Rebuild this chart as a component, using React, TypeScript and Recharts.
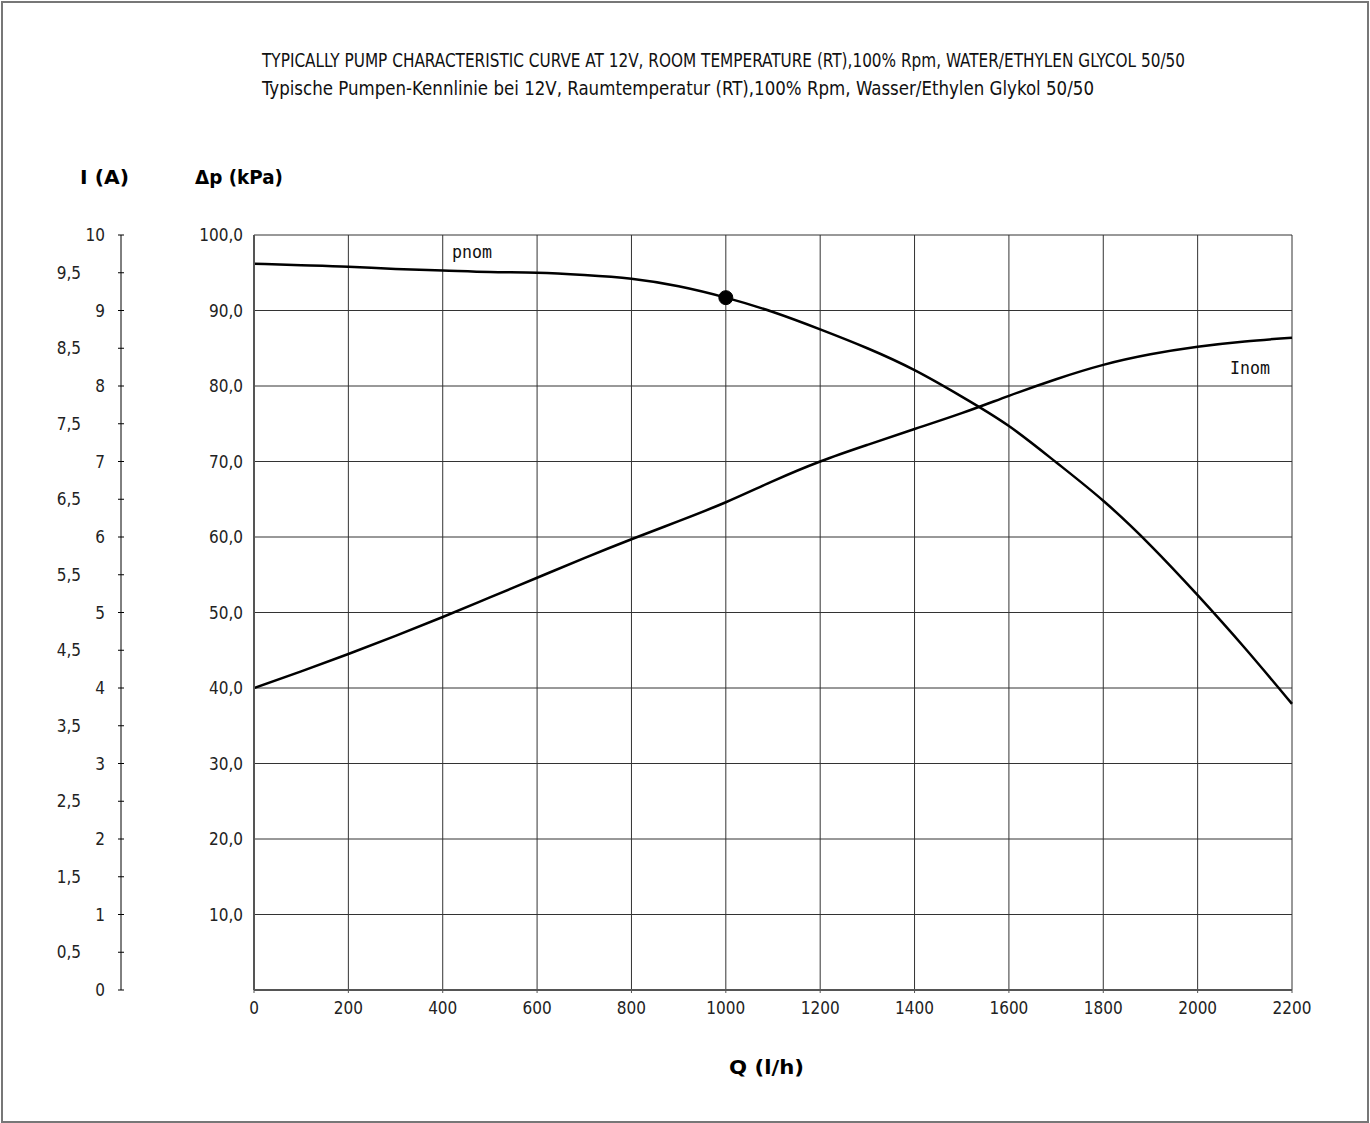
import React from 'react'
import {
  ComposedChart,
  Line,
  XAxis,
  YAxis,
  CartesianGrid,
  ReferenceDot,
} from 'recharts'

// flow Q in l/h
const flow = [0, 100, 200, 300, 400, 500, 600, 700, 800, 900, 1000, 1100, 1200, 1300, 1400, 1500, 1600, 1700, 1800, 1900, 2000, 2100, 2200]
// pressure difference in kPa
const pnom = [96.2, 96.0, 95.8, 95.5, 95.3, 95.1, 95.0, 94.7, 94.2, 93.2, 91.7, 89.8, 87.5, 85.0, 82.1, 78.6, 74.7, 69.9, 64.8, 58.9, 52.3, 45.3, 37.9]
// current in A
const inom = [4.0, 4.22, 4.45, 4.69, 4.94, 5.2, 5.46, 5.72, 5.97, 6.21, 6.46, 6.74, 7.0, 7.22, 7.43, 7.64, 7.87, 8.09, 8.28, 8.42, 8.52, 8.59, 8.64]

const flowTicks = [0, 200, 400, 600, 800, 1000, 1200, 1400, 1600, 1800, 2000, 2200]
const pTicks = [0, 10, 20, 30, 40, 50, 60, 70, 80, 90, 100]
const iTicks = [0, 0.5, 1, 1.5, 2, 2.5, 3, 3.5, 4, 4.5, 5, 5.5, 6, 6.5, 7, 7.5, 8, 8.5, 9, 9.5, 10]

const operatingPoint = { q: 1000, p: 91.7 }

const titleEn = 'TYPICALLY PUMP CHARACTERISTIC CURVE AT 12V, ROOM TEMPERATURE (RT),100% Rpm, WATER/ETHYLEN GLYCOL 50/50'
const titleDe = 'Typische Pumpen-Kennlinie bei 12V, Raumtemperatur (RT),100% Rpm, Wasser/Ethylen Glykol 50/50'

const narrow = '"Liberation Sans Narrow", "DejaVu Sans Condensed", "Roboto Condensed", sans-serif'
const mono = '"DejaVu Sans Mono", "Liberation Mono", monospace'
const bold = '"DejaVu Sans", "Liberation Sans", sans-serif'

const data = flow.map((q, i) => ({ q, pnom: pnom[i], inom: inom[i] }))

// I axis: tick crosses the line, half values are set further left
const CurrentTick = (props: any) => {
  const { x, y, payload } = props
  const v: number = payload.value
  const half = v % 1 !== 0
  const label = half ? v.toFixed(1).replace('.', ',') : String(v)
  return (
    <g>
      <line x1={x - 3} x2={x + 3} y1={y} y2={y} stroke="#000" strokeWidth={1} />
      <text
        x={half ? x - 40 : x - 16}
        y={y}
        dy={6}
        textAnchor="end"
        fontFamily={narrow}
        fontSize={17}
        fill="#222"
      >
        {label}
      </text>
    </g>
  )
}

export default function App() {
  return (
    <div style={{ position: 'absolute', left: 0, top: 0, width: 1370, height: 1123, background: '#fff' }}>
      <div
        style={{
          position: 'absolute',
          left: 1,
          top: 1,
          width: 1364,
          height: 1118,
          border: '2px solid #777',
        }}
      />
      <ComposedChart
        width={1370}
        height={1123}
        data={data}
        margin={{ top: 235, right: 78, bottom: 103, left: 0 }}
        style={{ position: 'absolute', left: 0, top: 0 }}
      >
        <CartesianGrid
          yAxisId="a"
          stroke="#333"
          strokeWidth={1}
          horizontalValues={pTicks}
          verticalValues={flowTicks}
        />
        <XAxis
          dataKey="q"
          type="number"
          domain={[0, 2200]}
          ticks={flowTicks}
          interval={0}
          axisLine={{ stroke: '#555', strokeWidth: 2 }}
          tickLine={{ stroke: '#555' }}
          tickSize={3}
          tickMargin={9}
          height={30}
          tick={{ fontFamily: narrow, fontSize: 17, fill: '#222' }}
        />
        {/* pressure axis, next to the plot */}
        <YAxis
          yAxisId="a"
          orientation="left"
          type="number"
          domain={[0, 100]}
          ticks={pTicks}
          interval={0}
          width={133}
          axisLine={{ stroke: '#555', strokeWidth: 2 }}
          tickLine={false}
          tickSize={0}
          tickMargin={11}
          tickFormatter={(v: number) => (v === 0 ? '' : v.toFixed(1).replace('.', ','))}
          tick={{ fontFamily: narrow, fontSize: 17, fill: '#222' }}
        />
        {/* current axis, outer */}
        <YAxis
          yAxisId="b"
          orientation="left"
          type="number"
          domain={[0, 10]}
          ticks={iTicks}
          interval={0}
          width={121}
          axisLine={{ stroke: '#000', strokeWidth: 1 }}
          tickLine={false}
          tickSize={0}
          tickMargin={0}
          tick={<CurrentTick />}
        />
        <YAxis yAxisId="r" orientation="right" width={0} domain={[0, 100]} tick={false} axisLine={{ stroke: '#000', strokeWidth: 1.5 }} />
        <Line
          yAxisId="a"
          dataKey="pnom"
          type="natural"
          stroke="#000"
          strokeWidth={2.5}
          dot={false}
          isAnimationActive={false}
        />
        <Line
          yAxisId="b"
          dataKey="inom"
          type="natural"
          stroke="#000"
          strokeWidth={2.5}
          dot={false}
          isAnimationActive={false}
        />
        <ReferenceDot
          yAxisId="a"
          x={operatingPoint.q}
          y={operatingPoint.p}
          r={7}
          fill="#000"
          stroke="#000"
        />
      </ComposedChart>
      <svg width={1370} height={1123} style={{ position: 'absolute', left: 0, top: 0, pointerEvents: 'none' }}>
        <text x={262} y={67} fontFamily={narrow} fontSize={20} fill="#111" textLength={923} lengthAdjust="spacingAndGlyphs">
          {titleEn}
        </text>
        <text x={262} y={95} fontFamily={narrow} fontSize={20} fill="#111" textLength={832} lengthAdjust="spacingAndGlyphs">
          {titleDe}
        </text>
        <text x={80} y={184} fontFamily={bold} fontWeight="bold" fontSize={19} fill="#000" textLength={49} lengthAdjust="spacingAndGlyphs">
          I (A)
        </text>
        <text x={195} y={184} fontFamily={bold} fontWeight="bold" fontSize={19} fill="#000" textLength={88} lengthAdjust="spacingAndGlyphs">
          Δp (kPa)
        </text>
        <text x={729} y={1074} fontFamily={bold} fontWeight="bold" fontSize={19} fill="#000" textLength={75} lengthAdjust="spacingAndGlyphs">
          Q (l/h)
        </text>
        <text x={452} y={258} fontFamily={mono} fontSize={17} fill="#111" textLength={40} lengthAdjust="spacingAndGlyphs">
          pnom
        </text>
        <text x={1230} y={374} fontFamily={mono} fontSize={17} fill="#111" textLength={40} lengthAdjust="spacingAndGlyphs">
          Inom
        </text>
      </svg>
    </div>
  )
}
